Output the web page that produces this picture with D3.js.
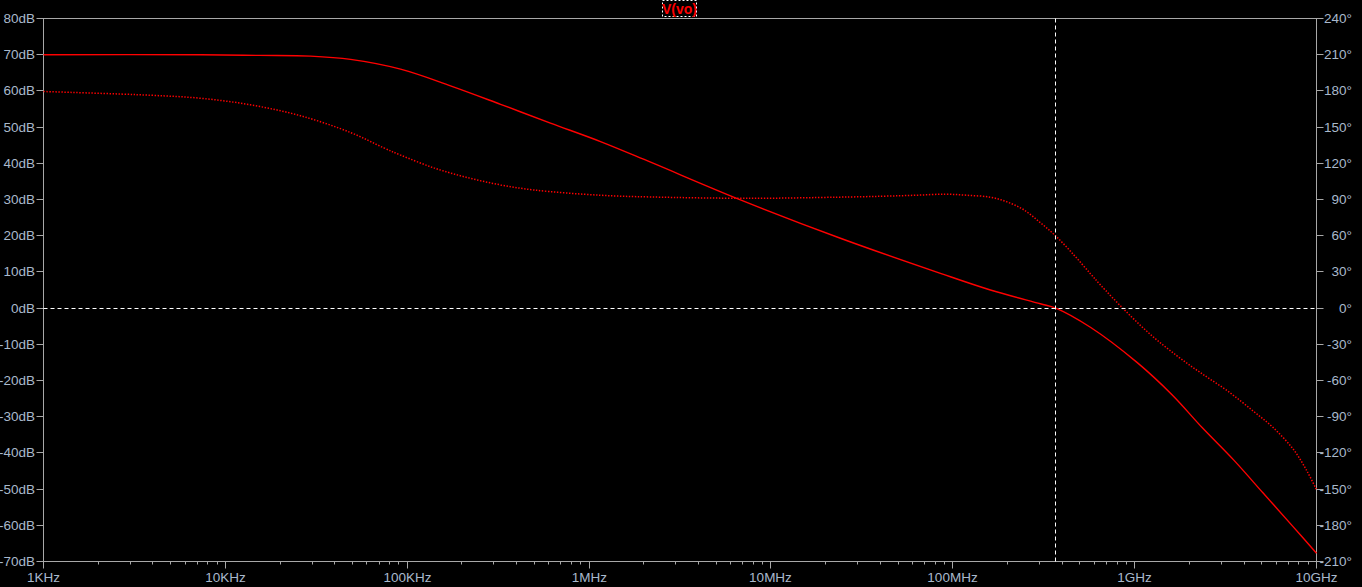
<!DOCTYPE html>
<html>
<head>
    <meta charset="UTF-8">
    <script src="https://cdn.jsdelivr.net/npm/d3@7/dist/d3.min.js"></script>
    <style>
        body { margin: 0; background: #000; }
        svg { display: block; }
        text { font-family: "Liberation Sans", Arial, sans-serif; }
    </style>
</head>
<body>
<svg id="plot" width="1362" height="587"></svg>

<script>

// magnitude trace (solid), Hz / dB
let magFreq = [1e3, 7.3e3, 15.4e3, 29.4e3, 48.8e3, 91.9e3, 173e3, 326e3, 613e3, 1.156e6, 2.18e6,
               6.8e6, 24.1e6, 85.5e6, 161e6, 303e6, 368e6, 571e6, 1.03e9, 1.61e9, 2.35e9,
               3.51e9, 5.09e9, 7.41e9, 1e10];
let magDb   = [70, 70, 69.8, 69.6, 68.7, 66.0, 61.4, 56.3, 51.1, 46.0, 40.3,
               29.9, 19.3, 9.6, 5.0, 1.2, 0, -5.3, -15.0, -24.0, -33.0,
               -42.0, -51.1, -60.3, -67.7];

// phase trace (dotted), Hz / degrees
let phFreq = [1e3, 3.87e3, 7.3e3, 13.7e3, 25.9e3, 48.8e3, 74.3e3, 91.9e3, 140e3, 214e3, 326e3,
              497e3, 1.156e6, 2.18e6, 7.7e6, 23e6, 41e6, 62e6, 91e6, 120e6, 161e6, 199e6, 246e6,
              303e6, 368e6, 463e6, 571e6, 649e6, 871e6, 1.22e9, 1.71e9, 2.30e9, 3.23e9, 4.52e9,
              5.82e9, 7.5e9, 8.89e9, 1e10];
let phDeg  = [179.5, 176.4, 173.9, 168.5, 159.4, 145.5, 132.8, 126.8, 116.2, 108.2, 102.1,
              97.9, 93.5, 92.1, 91.0, 91.9, 92.7, 93.5, 94.4, 93.5, 91.9, 88.0, 81.4,
              70.8, 59.8, 44.1, 28.5, 19.2, -0.9, -21.8, -39.6, -53.5, -68.5, -85.7,
              -99.5, -117.5, -135.4, -150.6];

// axis ticks
let freqTicks  = [1e3, 1e4, 1e5, 1e6, 1e7, 1e8, 1e9, 1e10];
let freqLabels = ["1KHz", "10KHz", "100KHz", "1MHz", "10MHz", "100MHz", "1GHz", "10GHz"];
let dbTicks    = d3.range(80, -71, -10);
let degTicks   = d3.range(240, -211, -30);

// cursor position
let cursorFreq = 368e6;
let cursorDb = 0;

let svg = d3.select("#plot");
let pLeft = 43.5, pRight = 1316.5, pTop = 18.5, pBottom = 561.5;
let axisCol = "#a8a8a8";
let textCol = "#a9b9cc";

let X  = d3.scaleLog([1e3, 1e10], [pLeft, pRight]);
let Y  = d3.scaleLinear([-70, 80], [pBottom, pTop]);     // dB, left
let Yp = d3.scaleLinear([-210, 240], [pBottom, pTop]);   // degrees, right

svg.append("rect").attr("width", 1362).attr("height", 587).attr("fill", "#000");

//===================================== frame + axes =====================================//
svg.append("rect")
    .attr("x", pLeft).attr("y", pTop)
    .attr("width", pRight - pLeft).attr("height", pBottom - pTop)
    .attr("fill", "none").attr("stroke", axisCol);

let leftAxis = svg.append("g");
dbTicks.forEach(v => {
    let y = Math.round(Y(v) - 0.5) + 0.5;
    leftAxis.append("line").attr("x1", pLeft - 7).attr("x2", pLeft).attr("y1", y).attr("y2", y).attr("stroke", axisCol);
    leftAxis.append("text").attr("x", 35).attr("y", y).attr("dy", "0.36em")
        .attr("text-anchor", "end").attr("fill", textCol).attr("font-size", 13.5)
        .text(v + "dB");
});

let rightAxis = svg.append("g");
degTicks.forEach(v => {
    let y = Math.round(Yp(v) - 0.5) + 0.5;
    rightAxis.append("line").attr("x1", pRight).attr("x2", pRight + 7).attr("y1", y).attr("y2", y).attr("stroke", axisCol);
    rightAxis.append("text").attr("x", 1352).attr("y", y).attr("dy", "0.36em")
        .attr("text-anchor", "end").attr("fill", textCol).attr("font-size", 13.5)
        .text(v + "°");
});

let bottomAxis = svg.append("g");
freqTicks.forEach((f, i) => {
    let x = Math.round(X(f) - 0.5) + 0.5;
    bottomAxis.append("line").attr("x1", x).attr("x2", x).attr("y1", pBottom).attr("y2", pBottom + 7).attr("stroke", axisCol);
    bottomAxis.append("text").attr("x", x).attr("y", 582)
        .attr("text-anchor", "middle").attr("fill", textCol).attr("font-size", 13.5)
        .text(freqLabels[i]);
    if (i < freqTicks.length - 1) {
        for (let k = 2; k <= 9; k++) {           // minor ticks 2..9 per decade
            let xm = Math.round(X(f * k) - 0.5) + 0.5;
            bottomAxis.append("line").attr("x1", xm).attr("x2", xm).attr("y1", pBottom).attr("y2", pBottom + 3).attr("stroke", axisCol);
        }
    }
});

//===================================== traces =====================================//
let magLine = d3.line().x(d => X(d[0])).y(d => Y(d[1])).curve(d3.curveCatmullRom.alpha(0.5));
let phLine  = d3.line().x(d => X(d[0])).y(d => Yp(d[1])).curve(d3.curveCatmullRom.alpha(0.5));

svg.append("path")
    .attr("d", phLine(d3.zip(phFreq, phDeg)))
    .attr("fill", "none").attr("stroke", "#ff0000").attr("stroke-width", 1.5)
    .attr("stroke-dasharray", "1.4,1.6");

svg.append("path")
    .attr("d", magLine(d3.zip(magFreq, magDb)))
    .attr("fill", "none").attr("stroke", "#ff0000").attr("stroke-width", 1.4);

//===================================== cursor =====================================//
let cx = Math.round(X(cursorFreq) - 0.5) + 0.5;
let cy = Math.round(Y(cursorDb) - 0.5) + 0.5;
svg.append("line").attr("x1", cx).attr("x2", cx).attr("y1", pTop).attr("y2", pBottom)
    .attr("stroke", "#fff").attr("stroke-dasharray", "4,3");
svg.append("line").attr("x1", pLeft).attr("x2", pRight).attr("y1", cy).attr("y2", cy)
    .attr("stroke", "#fff").attr("stroke-dasharray", "4,3");

//===================================== trace label =====================================//
svg.append("rect").attr("x", 662.5).attr("y", 0.5).attr("width", 34).attr("height", 16)
    .attr("fill", "none").attr("stroke", "#fff").attr("stroke-dasharray", "2,2");
svg.append("text").attr("x", 679.5).attr("y", 13.5).attr("text-anchor", "middle")
    .attr("fill", "#ff0000").attr("font-size", 14).attr("font-weight", "bold")
    .text("V(vo)");

</script>
</body>
</html>
